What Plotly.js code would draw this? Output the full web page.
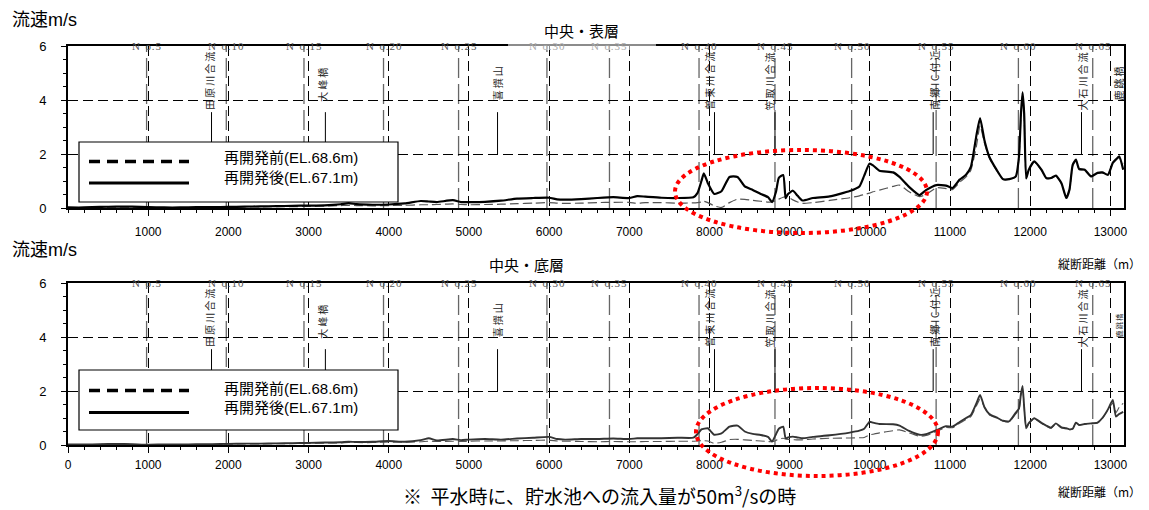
<!DOCTYPE html>
<html><head><meta charset="utf-8">
<script src="https://cdn.plot.ly/plotly-3.0.1.min.js"></script>
<style>html,body{margin:0;padding:0;background:#fff}#chart{width:1149px;height:510px}</style>
</head><body><div id="chart"></div>
<script>
// ---------------- DATA ----------------
const distance = [0,200,400,600,800,1000,1200,1400,1600,1800,2000,2200,2400,2600,2800,3000,3200,3400,3500,3600,3800,4000,4200,4400,4500,4600,4800,4900,5000,5200,5400,5600,5800,6000,6100,6200,6400,6600,6800,7000,7100,7200,7400,7600,7800,7850,7900,7930,7980,8060,8150,8250,8350,8440,8540,8640,8730,8780,8830,8865,8920,8950,8980,9040,9100,9160,9290,9500,9750,9870,9930,9995,10040,10120,10290,10370,10490,10620,10700,10830,10950,11030,11120,11200,11260,11330,11375,11430,11490,11580,11660,11740,11820,11860,11885,11905,11925,11950,11980,12050,12140,12200,12260,12320,12390,12450,12490,12530,12570,12610,12680,12760,12840,12900,12970,13030,13070,13110,13160];
// 中央・表層 再開発後 (EL.67.1m)
const surfaceAfter = [0.02,0.02,0.04,0.05,0.05,0.03,0.02,0.02,0.03,0.03,0.04,0.05,0.06,0.07,0.08,0.09,0.10,0.14,0.18,0.14,0.12,0.13,0.17,0.26,0.24,0.22,0.29,0.22,0.22,0.23,0.27,0.35,0.37,0.38,0.32,0.31,0.33,0.37,0.40,0.37,0.44,0.42,0.38,0.37,0.40,0.55,1.00,1.28,0.92,0.52,0.62,1.15,1.15,0.80,0.67,0.52,0.40,0.22,0.60,1.12,1.22,0.36,0.52,0.64,0.45,0.28,0.37,0.43,0.63,0.80,1.20,1.64,1.58,1.38,1.32,1.15,0.78,0.48,0.66,0.85,0.83,0.74,1.05,1.23,1.52,2.70,3.33,2.50,1.90,1.42,1.07,1.07,1.17,1.90,3.50,4.28,3.50,1.10,1.40,1.73,1.42,1.11,1.11,1.20,0.92,0.37,0.68,1.60,1.79,1.45,1.42,1.17,1.30,1.32,1.23,1.67,1.80,1.91,1.42];
// 中央・表層 再開発前 (EL.68.6m)
const surfaceBefore = [0.01,0.01,0.02,0.03,0.03,0.02,0.01,0.01,0.02,0.02,0.03,0.04,0.04,0.05,0.05,0.06,0.07,0.09,0.10,0.09,0.08,0.09,0.10,0.12,0.12,0.13,0.15,0.13,0.12,0.13,0.14,0.16,0.18,0.20,0.18,0.17,0.18,0.20,0.21,0.21,0.17,0.20,0.20,0.18,0.19,0.20,0.22,0.25,0.20,0.08,0.02,0.20,0.33,0.32,0.28,0.25,0.22,0.22,0.28,0.33,0.40,0.42,0.40,0.30,0.22,0.17,0.20,0.28,0.38,0.45,0.50,0.55,0.60,0.66,0.80,0.85,0.60,0.42,0.50,0.75,0.72,0.68,0.95,1.15,1.40,2.30,3.05,2.40,1.85,1.40,1.07,1.06,1.15,1.80,3.40,4.20,3.40,1.10,1.38,1.70,1.40,1.10,1.10,1.18,0.90,0.38,0.66,1.55,1.75,1.42,1.40,1.16,1.28,1.30,1.25,1.65,1.80,1.85,1.65];
// 中央・底層 再開発後 (EL.67.1m)
const bottomAfter = [0.02,0.02,0.03,0.04,0.03,0.01,0.02,0.02,0.03,0.03,0.04,0.05,0.05,0.06,0.07,0.08,0.09,0.10,0.12,0.11,0.12,0.15,0.12,0.18,0.25,0.17,0.22,0.18,0.20,0.22,0.20,0.24,0.27,0.30,0.22,0.20,0.22,0.22,0.24,0.22,0.25,0.25,0.25,0.27,0.27,0.40,0.58,0.60,0.62,0.38,0.43,0.68,0.72,0.50,0.41,0.37,0.30,0.13,0.40,0.60,0.68,0.25,0.28,0.31,0.28,0.25,0.30,0.36,0.46,0.53,0.60,0.86,0.83,0.78,0.77,0.72,0.52,0.38,0.40,0.55,0.70,0.68,0.85,1.00,1.11,1.55,1.85,1.40,1.15,1.02,0.90,0.88,1.20,1.35,1.90,2.19,1.40,0.62,0.80,0.99,0.82,0.72,0.64,0.80,0.65,0.62,0.58,0.60,0.83,0.74,0.78,0.80,0.83,1.00,1.32,1.67,1.05,1.15,1.23];
// 中央・底層 再開発前 (EL.68.6m)
const bottomBefore = [0.01,0.01,0.02,0.03,0.02,0.01,0.01,0.01,0.02,0.02,0.03,0.04,0.04,0.05,0.05,0.06,0.07,0.08,0.09,0.09,0.09,0.11,0.10,0.12,0.14,0.13,0.14,0.13,0.14,0.15,0.15,0.16,0.17,0.18,0.15,0.14,0.13,0.12,0.13,0.12,0.12,0.13,0.13,0.14,0.14,0.15,0.16,0.16,0.15,0.06,0.10,0.20,0.21,0.19,0.17,0.15,0.13,0.12,0.17,0.22,0.25,0.22,0.21,0.20,0.19,0.19,0.22,0.25,0.26,0.27,0.28,0.37,0.40,0.45,0.53,0.56,0.45,0.32,0.35,0.50,0.65,0.64,0.80,0.95,1.05,1.45,1.70,1.40,1.12,1.00,0.88,0.86,1.15,1.30,1.85,2.15,1.40,0.62,0.78,0.97,0.80,0.70,0.62,0.78,0.63,0.60,0.57,0.60,0.82,0.74,0.77,0.79,0.82,0.98,1.30,1.55,1.20,1.40,1.54];

const xTickValsTop = [1000,2000,3000,4000,5000,6000,7000,8000,9000,10000,11000,12000,13000];
const xTickTextTop = ['1000','2000','3000','4000','5000','6000','7000','8000','9000','10000','11000','12000','13000'];
const xTickValsBottom = [0,1000,2000,3000,4000,5000,6000,7000,8000,9000,10000,11000,12000,13000];
const xTickTextBottom = ['0','1000','2000','3000','4000','5000','6000','7000','8000','9000','10000','11000','12000','13000'];
const yTickVals = [0,2,4,6];
const yTickText = ['0','2','4','6'];

const stationNames = ['No.5','No.10','No.15','No.20','No.25','No.30','No.35','No.40','No.45','No.50','No.55','No.60','No.65'];
const stationDistance = [980,1974,2943,3935,4871,5973,6753,7870,8817,9773,10827,11853,12780];

const landmarkNames = ['田原川合流','大峰橋','喜撰山','曽束川合流','笠取川合流','南郷IC付近','大石川合流','鹿跳橋'];
const landmarkTextDistance = [1755,3163,5357,7990,8748,10803,12650,13105];
const landmarkLineDistance = [1790,3210,5357,8063,8817,10790,12640,null];

const seriesNames = ['再開発前(EL.68.6m)','再開発後(EL.67.1m)'];
const panelTitles = ['中央・表層','中央・底層'];

// ---------------- LAYOUT HELPERS ----------------
const W=1149,H=510,L=68,R=25,T=46,B=65;
const PW=W-L-R, PH=H-T-B;
const px = v => (v-L)/PW;
const py = v => (H-B-v)/PH;
const XMAX = 13170;
const FONT = 'Liberation Sans, Arial, Noto Sans CJK JP, sans-serif';
const CJK = 'Noto Sans CJK JP, Liberation Sans, sans-serif';

function makeX(anchor, vals, texts, standoff){
  return {domain:[0,1], anchor:anchor, range:[0,XMAX], tickmode:'array', tickvals:vals, ticktext:texts,
    ticks:'outside', ticklen:6, tickwidth:1, tickcolor:'#000',
    showgrid:true, gridcolor:'#000', gridwidth:1, griddash:'10px,5px', zeroline:false,
    showline:true, linecolor:'#000', linewidth:2, mirror:true,
    minor:{tick0:0, dtick:200, ticks:'outside', ticklen:3, tickcolor:'#000', showgrid:false},
    tickfont:{family:FONT,size:12,color:'#000'}, ticklabelstandoff:standoff, fixedrange:true};
}
function makeY(anchor, domain){
  return {domain:domain, anchor:anchor, range:[0,6], tickmode:'array', tickvals:yTickVals, ticktext:yTickText,
    ticks:'outside', ticklen:5, tickwidth:1, tickcolor:'#000',
    showgrid:true, gridcolor:'#000', gridwidth:1, griddash:'10px,5px', zeroline:false,
    showline:true, linecolor:'#000', linewidth:2, mirror:true,
    minor:{tick0:0, dtick:0.5, ticks:'outside', ticklen:3, tickcolor:'#000', showgrid:false},
    tickfont:{family:FONT,size:13,color:'#000'}, ticklabelstandoff:12, fixedrange:true};
}

const traces = [
  {x:distance, y:surfaceBefore, xaxis:'x', yaxis:'y', mode:'lines', name:seriesNames[0],
   line:{color:'#555', width:1.2, dash:'9px,4px', shape:'spline', smoothing:0.5}},
  {x:distance, y:surfaceAfter, xaxis:'x', yaxis:'y', mode:'lines', name:seriesNames[1],
   line:{color:'#000', width:2.2, shape:'spline', smoothing:0.5}},
  {x:distance, y:bottomBefore, xaxis:'x2', yaxis:'y2', mode:'lines', name:seriesNames[0],
   line:{color:'#555', width:1.1, dash:'9px,4px', shape:'spline', smoothing:0.5}},
  {x:distance, y:bottomAfter, xaxis:'x2', yaxis:'y2', mode:'lines', name:seriesNames[1],
   line:{color:'#333', width:1.9, shape:'spline', smoothing:0.5}}
];

const shapes = [], ann = [];
const panels = [
  {xa:'x', ya:'y', topPx:46, title:panelTitles[0], titleX:581, titleY:31, axTitleY:263, unitY:20,
   legend:{x0:79,x1:398,y0:142,y1:202,dashY:161.5,solidY:183,t1:157,t2:177},
   ellipse:{x0:675,x1:927,y0:150,y1:233}},
  {xa:'x2', ya:'y2', topPx:283, title:panelTitles[1], titleX:526, titleY:264, axTitleY:491, unitY:250,
   legend:{x0:79,x1:398,y0:370,y1:430,dashY:390.5,solidY:412.5,t1:388,t2:407},
   ellipse:{x0:696,x1:938,y0:388,y1:476}}
];
const landmarkBase = [3.55,3.85,3.9,3.55,3.55,3.55,3.55,3.9];

// faded frame segment behind the upper title
shapes.push({type:'rect', xref:'paper', yref:'paper', x0:px(508), x1:px(656), y0:py(50), y1:py(42),
  line:{width:0}, fillcolor:'rgba(255,255,255,0.55)', layer:'above'});

panels.forEach((p,pi)=>{
  stationDistance.forEach((d,i)=>{
    shapes.push({type:'line', xref:p.xa, yref:p.ya+' domain', x0:d, x1:d, y0:0, y1:1,
      line:{color:'#666', width:1.3, dash:'20px,6px'}, layer:'below'});
    const s = stationNames[i];
    ann.push({xref:p.xa, yref:'paper', x:d, y:py(p.topPx), text:s.charAt(0)+'\u2002'+s.slice(1).split('').join('\u200A'), showarrow:false,
      xanchor:'center', yanchor:'middle', font:{family:'Liberation Serif, DejaVu Serif, serif', size:11,
      color:(pi===0 && (i===5||i===6))?'#aaa':'#555'}});
  });
  landmarkNames.forEach((nm,i)=>{
    const lx = landmarkLineDistance[i];
    if(lx!==null){
      shapes.push({type:'line', xref:p.xa, yref:p.ya, x0:lx, x1:lx, y0:2, y1:3.55, line:{color:'#000', width:1}});
    }
    ann.push({xref:p.xa, yref:p.ya, x:landmarkTextDistance[i], y:landmarkBase[i], text:Array.from(nm).join('\u2009'),
      textangle:-90, showarrow:false, xanchor:'center', yanchor:'bottom',
      font:{family:CJK, size:(pi===1&&i===7)?7:10, color:'#222'}});
  });
  ann.push({xref:'paper', yref:'paper', x:px(10), y:py(p.unitY), text:'流速m/s', showarrow:false,
    xanchor:'left', yanchor:'middle', font:{family:FONT, size:18, color:'#000'}});
  ann.push({xref:'paper', yref:'paper', x:px(p.titleX), y:py(p.titleY), text:p.title, showarrow:false,
    xanchor:'center', yanchor:'middle', font:{family:CJK, size:15, color:'#000'}});
  ann.push({xref:'paper', yref:'paper', x:px(1143), y:py(p.axTitleY), text:'縦断距離（m）', showarrow:false,
    xanchor:'right', yanchor:'middle', font:{family:CJK, size:12, color:'#000'}});
  const lg = p.legend;
  shapes.push({type:'rect', xref:'paper', yref:'paper', x0:px(lg.x0), x1:px(lg.x1), y0:py(lg.y1), y1:py(lg.y0),
    line:{color:'#000', width:1.2}, fillcolor:'#fff', layer:'above'});
  shapes.push({type:'line', xref:'paper', yref:'paper', x0:px(89), x1:px(189), y0:py(lg.dashY), y1:py(lg.dashY),
    line:{color:'#000', width:3.5, dash:'11px,7px'}, layer:'above'});
  shapes.push({type:'line', xref:'paper', yref:'paper', x0:px(89), x1:px(189), y0:py(lg.solidY), y1:py(lg.solidY),
    line:{color:'#000', width:3}, layer:'above'});
  ann.push({xref:'paper', yref:'paper', x:px(222), y:py(lg.t1), text:seriesNames[0], showarrow:false,
    xanchor:'left', yanchor:'middle', font:{family:FONT, size:15, color:'#000'}});
  ann.push({xref:'paper', yref:'paper', x:px(222), y:py(lg.t2), text:seriesNames[1], showarrow:false,
    xanchor:'left', yanchor:'middle', font:{family:FONT, size:15, color:'#000'}});
  const e = p.ellipse;
  shapes.push({type:'circle', xref:'paper', yref:'paper', x0:px(e.x0), x1:px(e.x1), y0:py(e.y1), y1:py(e.y0),
    line:{color:'#ff0000', width:4, dash:'dot'}, layer:'above'});
});

ann.push({xref:'paper', yref:'paper', x:px(599), y:py(495), text:'※  平水時に、貯水池への流入量が50m<sup>3</sup>/sの時',
  showarrow:false, xanchor:'center', yanchor:'middle', font:{family:CJK, size:19, color:'#000'}});

const layout = {
  width:W, height:H, margin:{l:L, r:R, t:T, b:B, pad:0},
  paper_bgcolor:'#fff', plot_bgcolor:'#fff', showlegend:false,
  font:{family:FONT, color:'#000'},
  xaxis:makeX('y', xTickValsTop, xTickTextTop, 6),
  yaxis:makeY('x', [py(208), 1]),
  xaxis2:makeX('y2', xTickValsBottom, xTickTextBottom, 2),
  yaxis2:makeY('x2', [0, py(283)]),
  shapes:shapes, annotations:ann
};

Plotly.newPlot('chart', traces, layout, {displayModeBar:false, staticPlot:true});
</script></body></html>
